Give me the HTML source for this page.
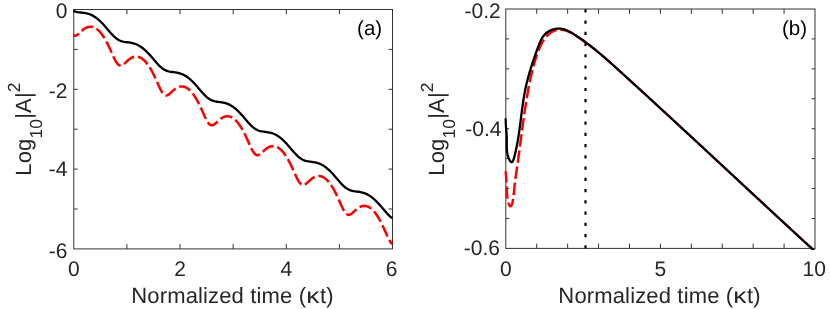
<!DOCTYPE html>
<html><head><meta charset="utf-8"><title>Log10|A|^2 vs normalized time</title>
<style>
html,body{margin:0;padding:0;background:#fff;}
body{width:830px;height:309px;overflow:hidden;font-family:"Liberation Sans",sans-serif;}
svg{display:block;will-change:transform;}
svg text{font-family:"Liberation Sans",sans-serif;text-rendering:geometricPrecision;}
.tk{font-size:21px;fill:#262626;}
.lb{font-size:22px;fill:#262626;letter-spacing:0.15px;}
.pn{font-size:20.5px;fill:#000;}
</style></head><body>
<svg width="830" height="309" viewBox="0 0 830 309">
<rect width="830" height="309" fill="#fff"/>
<clipPath id="ca"><rect x="72.3" y="8.0" width="321.7" height="242.4"/></clipPath>
<clipPath id="cb"><rect x="504.3" y="7.5" width="312.2" height="242.4"/></clipPath>
<path d="M73.30 9.50 H393.00 M73.30 248.90 H393.00 M73.80 9.50 V248.90 M392.50 9.50 V248.90 M126.92 248.90 v-4.80 M126.92 9.50 v4.80 M180.03 248.90 v-4.80 M180.03 9.50 v4.80 M233.15 248.90 v-4.80 M233.15 9.50 v4.80 M286.27 248.90 v-4.80 M286.27 9.50 v4.80 M339.38 248.90 v-4.80 M339.38 9.50 v4.80 M73.80 49.40 h3.90 M392.50 49.40 h-3.90 M73.80 89.30 h3.90 M392.50 89.30 h-3.90 M73.80 129.20 h3.90 M392.50 129.20 h-3.90 M73.80 169.10 h3.90 M392.50 169.10 h-3.90 M73.80 209.00 h3.90 M392.50 209.00 h-3.90 " stroke="#333" stroke-width="1" fill="none"/>
<text x="73.80" y="275.70" text-anchor="middle" class="tk">0</text>
<text x="180.03" y="275.70" text-anchor="middle" class="tk">2</text>
<text x="286.27" y="275.70" text-anchor="middle" class="tk">4</text>
<text x="391.60" y="275.70" text-anchor="middle" class="tk">6</text>
<text x="67.50" y="18.00" text-anchor="end" class="tk">0</text>
<text x="67.50" y="97.80" text-anchor="end" class="tk">-2</text>
<text x="67.50" y="176.40" text-anchor="end" class="tk">-4</text>
<text x="67.50" y="257.80" text-anchor="end" class="tk">-6</text>
<g clip-path="url(#ca)" fill="none" stroke-linejoin="round">
<path d="M73.20 35.25 L74.70 35.77 L76.20 35.48 L77.70 34.57 L79.20 33.31 L80.70 31.91 L82.20 30.54 L83.70 29.31 L85.20 28.29 L86.70 27.50 L88.20 26.96 L89.70 26.69 L91.20 26.69 L92.70 26.96 L94.20 27.49 L95.70 28.28 L97.20 29.34 L98.70 30.66 L100.20 32.25 L101.70 34.10 L103.20 36.23 L104.70 38.61 L106.20 41.26 L107.70 44.16 L109.20 47.27 L110.70 50.55 L112.20 53.92 L113.70 57.22 L115.20 60.27 L116.70 62.81 L118.20 64.61 L119.70 65.52 L121.20 65.55 L122.70 64.87 L124.20 63.72 L125.70 62.36 L127.20 60.97 L128.70 59.67 L130.20 58.55 L131.70 57.66 L133.20 57.01 L134.70 56.63 L136.20 56.52 L137.70 56.67 L139.20 57.09 L140.70 57.77 L142.20 58.72 L143.70 59.93 L145.20 61.41 L146.70 63.15 L148.20 65.16 L149.70 67.44 L151.20 69.98 L152.70 72.77 L154.20 75.80 L155.70 79.02 L157.20 82.36 L158.70 85.71 L160.20 88.90 L161.70 91.68 L163.20 93.82 L164.70 95.11 L166.20 95.50 L167.70 95.09 L169.20 94.11 L170.70 92.81 L172.20 91.41 L173.70 90.06 L175.20 88.85 L176.70 87.86 L178.20 87.11 L179.70 86.62 L181.20 86.40 L182.70 86.44 L184.20 86.74 L185.70 87.32 L187.20 88.15 L188.70 89.25 L190.20 90.62 L191.70 92.25 L193.20 94.15 L194.70 96.31 L196.20 98.74 L197.70 101.43 L199.20 104.36 L200.70 107.51 L202.20 110.81 L203.70 114.18 L205.20 117.45 L206.70 120.44 L208.20 122.88 L209.70 124.54 L211.20 125.30 L212.70 125.20 L214.20 124.43 L215.70 123.24 L217.20 121.86 L218.70 120.47 L220.20 119.20 L221.70 118.11 L223.20 117.26 L224.70 116.66 L226.20 116.32 L227.70 116.25 L229.20 116.44 L230.70 116.90 L232.20 117.63 L233.70 118.62 L235.20 119.87 L236.70 121.39 L238.20 123.18 L239.70 125.23 L241.20 127.55 L242.70 130.13 L244.20 132.96 L245.70 136.02 L247.20 139.27 L248.70 142.62 L250.20 145.96 L251.70 149.10 L253.20 151.80 L254.70 153.81 L256.20 154.95 L257.70 155.20 L259.20 154.68 L260.70 153.63 L262.20 152.31 L263.70 150.90 L265.20 149.57 L266.70 148.40 L268.20 147.45 L269.70 146.74 L271.20 146.29 L272.70 146.10 L274.20 146.19 L275.70 146.54 L277.20 147.15 L278.70 148.03 L280.20 149.17 L281.70 150.58 L283.20 152.26 L284.70 154.19 L286.20 156.40 L287.70 158.87 L289.20 161.60 L290.70 164.57 L292.20 167.75 L293.70 171.07 L295.20 174.43 L296.70 177.68 L298.20 180.59 L299.70 182.92 L301.20 184.44 L302.70 185.06 L304.20 184.84 L305.70 183.98 L307.20 182.74 L308.70 181.35 L310.20 179.98 L311.70 178.73 L313.20 177.68 L314.70 176.86 L316.20 176.31 L317.70 176.01 L319.20 175.98 L320.70 176.22 L322.20 176.72 L323.70 177.49 L325.20 178.52 L326.70 179.82 L328.20 181.38 L329.70 183.21 L331.20 185.30 L332.70 187.66 L334.20 190.29 L335.70 193.16 L337.20 196.25 L338.70 199.52 L340.20 202.88 L341.70 206.20 L343.20 209.29 L344.70 211.89 L346.20 213.77 L347.70 214.77 L349.20 214.88 L350.70 214.26 L352.20 213.15 L353.70 211.80 L355.20 210.40 L356.70 209.09 L358.20 207.95 L359.70 207.04 L361.20 206.37 L362.70 205.96 L364.20 205.82 L365.70 205.95 L367.20 206.34 L368.70 207.00 L370.20 207.92 L371.70 209.10 L373.20 210.55 L374.70 212.27 L376.20 214.25 L377.70 216.50 L379.20 219.01 L380.70 221.78 L382.20 224.79 L383.70 227.99 L385.20 231.33 L386.70 234.68 L388.20 237.89 L389.70 240.73 L391.20 242.94 L392.50 244.19" stroke="#ff0000" stroke-width="2.5" stroke-dasharray="12.5 3.8" stroke-dashoffset="6.0"/>
<path d="M73.20 10.74 L74.70 11.36 L76.20 11.80 L77.70 12.12 L79.20 12.34 L80.70 12.51 L82.20 12.67 L83.70 12.84 L85.20 13.07 L86.70 13.36 L88.20 13.75 L89.70 14.25 L91.20 14.86 L92.70 15.60 L94.20 16.47 L95.70 17.47 L97.20 18.60 L98.70 19.86 L100.20 21.24 L101.70 22.73 L103.20 24.32 L104.70 26.00 L106.20 27.73 L107.70 29.49 L109.20 31.25 L110.70 32.97 L112.20 34.61 L113.70 36.14 L115.20 37.51 L116.70 38.69 L118.20 39.68 L119.70 40.46 L121.20 41.06 L122.70 41.50 L124.20 41.82 L125.70 42.06 L127.20 42.25 L128.70 42.44 L130.20 42.66 L131.70 42.93 L133.20 43.28 L134.70 43.73 L136.20 44.29 L137.70 44.96 L139.20 45.77 L140.70 46.70 L142.20 47.76 L143.70 48.96 L145.20 50.27 L146.70 51.70 L148.20 53.24 L149.70 54.87 L151.20 56.57 L152.70 58.32 L154.20 60.09 L155.70 61.84 L157.20 63.54 L158.70 65.13 L160.20 66.60 L161.70 67.89 L163.20 68.99 L164.70 69.89 L166.20 70.60 L167.70 71.13 L169.20 71.51 L170.70 71.79 L172.20 72.00 L173.70 72.19 L175.20 72.38 L176.70 72.62 L178.20 72.93 L179.70 73.32 L181.20 73.81 L182.70 74.42 L184.20 75.15 L185.70 76.01 L187.20 77.00 L188.70 78.12 L190.20 79.36 L191.70 80.73 L193.20 82.21 L194.70 83.79 L196.20 85.45 L197.70 87.18 L199.20 88.94 L200.70 90.70 L202.20 92.43 L203.70 94.09 L205.20 95.64 L206.70 97.03 L208.20 98.24 L209.70 99.26 L211.20 100.08 L212.70 100.70 L214.20 101.16 L215.70 101.50 L217.20 101.74 L218.70 101.94 L220.20 102.13 L221.70 102.34 L223.20 102.60 L224.70 102.94 L226.20 103.37 L227.70 103.92 L229.20 104.58 L230.70 105.36 L232.20 106.27 L233.70 107.32 L235.20 108.49 L236.70 109.79 L238.20 111.21 L239.70 112.73 L241.20 114.35 L242.70 116.04 L244.20 117.78 L245.70 119.55 L247.20 121.31 L248.70 123.01 L250.20 124.63 L251.70 126.11 L253.20 127.43 L254.70 128.56 L256.20 129.49 L257.70 130.22 L259.20 130.78 L260.70 131.18 L262.20 131.47 L263.70 131.69 L265.20 131.88 L266.70 132.07 L268.20 132.30 L269.70 132.60 L271.20 132.97 L272.70 133.45 L274.20 134.04 L275.70 134.75 L277.20 135.59 L278.70 136.56 L280.20 137.66 L281.70 138.89 L283.20 140.24 L284.70 141.70 L286.20 143.27 L287.70 144.92 L289.20 146.64 L290.70 148.40 L292.20 150.16 L293.70 151.90 L295.20 153.57 L296.70 155.14 L298.20 156.56 L299.70 157.80 L301.20 158.84 L302.70 159.69 L304.20 160.34 L305.70 160.82 L307.20 161.18 L308.70 161.43 L310.20 161.63 L311.70 161.82 L313.20 162.02 L314.70 162.28 L316.20 162.60 L317.70 163.02 L319.20 163.55 L320.70 164.19 L322.20 164.96 L323.70 165.85 L325.20 166.88 L326.70 168.03 L328.20 169.31 L329.70 170.71 L331.20 172.22 L332.70 173.82 L334.20 175.51 L335.70 177.25 L337.20 179.01 L338.70 180.77 L340.20 182.49 L341.70 184.12 L343.20 185.62 L344.70 186.97 L346.20 188.13 L347.70 189.09 L349.20 189.85 L350.70 190.42 L352.20 190.85 L353.70 191.15 L355.20 191.38 L356.70 191.57 L358.20 191.76 L359.70 191.98 L361.20 192.27 L362.70 192.63 L364.20 193.09 L365.70 193.67 L367.20 194.36 L368.70 195.18 L370.20 196.13 L371.70 197.21 L373.20 198.42 L374.70 199.75 L376.20 201.20 L377.70 202.75 L379.20 204.39 L380.70 206.10 L382.20 207.86 L383.70 209.62 L385.20 211.37 L386.70 213.05 L388.20 214.64 L389.70 216.08 L391.20 217.35 L392.50 218.29" stroke="#000" stroke-width="2.3"/>
</g>
<text transform="translate(30.80 129.00) rotate(-90)" text-anchor="middle" class="lb">Log<tspan dy="10.7" font-size="17.5">10</tspan><tspan dy="-10.7">|A|</tspan><tspan dy="-11.2" font-size="17.5">2</tspan></text>
<text x="131.25" y="302.60" class="lb">Normalized time (</text>
<text transform="translate(306.25 302.60) scale(1.2 1)" class="lb">κ</text>
<text x="319.95" y="302.60" class="lb">t)</text>
<text x="369.6" y="34.6" text-anchor="middle" class="pn">(a)</text>
<path d="M505.30 9.00 H815.50 M505.30 248.40 H815.50 M505.80 9.00 V248.40 M815.00 9.00 V248.40 M536.72 248.40 v-4.80 M536.72 9.00 v4.80 M567.64 248.40 v-4.80 M567.64 9.00 v4.80 M598.56 248.40 v-4.80 M598.56 9.00 v4.80 M629.48 248.40 v-4.80 M629.48 9.00 v4.80 M660.40 248.40 v-4.80 M660.40 9.00 v4.80 M691.32 248.40 v-4.80 M691.32 9.00 v4.80 M722.24 248.40 v-4.80 M722.24 9.00 v4.80 M753.16 248.40 v-4.80 M753.16 9.00 v4.80 M784.08 248.40 v-4.80 M784.08 9.00 v4.80 M505.80 38.92 h3.30 M815.00 38.92 h-3.30 M505.80 68.85 h3.30 M815.00 68.85 h-3.30 M505.80 98.78 h3.30 M815.00 98.78 h-3.30 M505.80 128.70 h3.30 M815.00 128.70 h-3.30 M505.80 158.62 h3.30 M815.00 158.62 h-3.30 M505.80 188.55 h3.30 M815.00 188.55 h-3.30 M505.80 218.47 h3.30 M815.00 218.47 h-3.30 " stroke="#333" stroke-width="1" fill="none"/>
<text x="505.80" y="275.70" text-anchor="middle" class="tk">0</text>
<text x="660.40" y="275.70" text-anchor="middle" class="tk">5</text>
<text x="814.20" y="275.70" text-anchor="middle" class="tk">10</text>
<text x="500.70" y="18.10" text-anchor="end" class="tk">-0.2</text>
<text x="501.40" y="136.30" text-anchor="end" class="tk">-0.4</text>
<text x="500.00" y="254.80" text-anchor="end" class="tk">-0.6</text>
<g clip-path="url(#cb)" fill="none" stroke-linejoin="round">
<path d="M585.5 9.0 V248.4" stroke="#000" stroke-width="2.15" stroke-dasharray="3.2 8.04" stroke-dashoffset="-0.2"/>
<clipPath id="cr1"><rect x="500" y="0" width="90" height="309"/></clipPath><clipPath id="cr2"><rect x="590" y="0" width="240" height="309"/></clipPath>
<path d="M505.28 171.14 L505.48 172.04 L505.64 173.01 L505.79 174.04 L505.92 175.12 L506.03 176.26 L506.12 177.45 L506.21 178.67 L506.28 179.93 L506.35 181.22 L506.41 182.54 L506.47 183.87 L506.52 185.22 L506.58 186.58 L506.64 187.95 L506.70 189.31 L506.78 190.66 L506.86 192.00 L506.96 193.33 L507.07 194.63 L507.20 195.91 L507.34 197.15 L507.51 198.35 L507.70 199.50 L507.92 200.61 L508.16 201.67 L508.44 202.66 L508.75 203.59 L509.09 204.44 L509.47 205.21 L509.87 205.83 L510.29 206.20 L510.71 206.24 L511.13 205.96 L511.52 205.33 L511.88 204.42 L512.21 203.29 L512.51 202.03 L512.78 200.70 L513.02 199.38 L513.23 198.08 L513.42 196.79 L513.59 195.52 L513.74 194.25 L513.87 193.00 L514.00 191.76 L514.12 190.52 L514.24 189.30 L514.36 188.07 L514.49 186.86 L514.62 185.65 L514.75 184.44 L514.89 183.23 L515.04 182.03 L515.19 180.83 L515.34 179.64 L515.49 178.45 L515.65 177.26 L515.81 176.07 L515.97 174.89 L516.13 173.71 L516.30 172.53 L516.47 171.35 L516.64 170.17 L516.80 168.99 L516.97 167.81 L517.14 166.64 L517.31 165.46 L517.48 164.28 L517.65 163.10 L517.82 161.92 L517.98 160.75 L518.15 159.56 L518.31 158.38 L518.47 157.20 L518.63 156.02 L518.79 154.84 L518.95 153.65 L519.11 152.47 L519.27 151.28 L519.43 150.09 L519.59 148.91 L519.75 147.72 L519.90 146.53 L520.06 145.34 L520.22 144.16 L520.37 142.97 L520.53 141.78 L520.69 140.59 L520.84 139.40 L521.00 138.21 L521.15 137.02 L521.31 135.82 L521.47 134.63 L521.63 133.44 L521.78 132.25 L521.94 131.06 L522.10 129.87 L522.26 128.67 L522.42 127.48 L522.58 126.29 L522.74 125.10 L522.91 123.90 L523.07 122.71 L523.23 121.52 L523.40 120.33 L523.57 119.14 L523.73 117.94 L523.90 116.75 L524.07 115.56 L524.25 114.37 L524.42 113.18 L524.59 111.99 L524.77 110.80 L524.95 109.61 L525.13 108.42 L525.31 107.23 L525.49 106.04 L525.68 104.85 L525.87 103.66 L526.06 102.48 L526.25 101.29 L526.44 100.10 L526.64 98.92 L526.84 97.73 L527.04 96.55 L527.24 95.37 L527.45 94.18 L527.66 93.00 L527.87 91.82 L528.08 90.64 L528.30 89.46 L528.52 88.28 L528.74 87.10 L528.96 85.93 L529.19 84.75 L529.42 83.58 L529.66 82.40 L529.90 81.23 L530.14 80.06 L530.39 78.89 L530.64 77.72 L530.90 76.55 L531.17 75.38 L531.43 74.22 L531.71 73.05 L531.99 71.89 L532.27 70.73 L532.56 69.57 L532.86 68.41 L533.16 67.25 L533.47 66.10 L533.79 64.94 L534.12 63.79 L534.45 62.64 L534.79 61.49 L535.14 60.35 L535.49 59.20 L535.85 58.06 L536.23 56.92 L536.61 55.78 L537.00 54.64 L537.39 53.50 L537.80 52.37 L538.22 51.24 L538.66 50.12 L539.11 49.00 L539.57 47.89 L540.06 46.78 L540.57 45.69 L541.10 44.61 L541.65 43.54 L542.23 42.48 L542.84 41.44 L543.48 40.41 L544.15 39.40 L544.85 38.41 L545.59 37.45 L546.36 36.52 L547.16 35.63 L548.00 34.78 L548.89 33.98 L549.81 33.23 L550.76 32.54 L551.77 31.91 L552.81 31.34 L553.89 30.85 L555.02 30.43 L556.20 30.10 L557.40 29.85 L558.62 29.69 L559.84 29.61 L561.04 29.63 L562.23 29.73 L563.39 29.92 L564.54 30.18 L565.68 30.50 L566.80 30.89 L567.90 31.33 L568.99 31.82 L570.07 32.35 L571.14 32.92 L572.20 33.51 L573.25 34.13 L574.29 34.76 L575.32 35.40 L576.35 36.05 L577.37 36.71 L578.38 37.37 L579.39 38.04 L580.39 38.71 L581.39 39.39 L582.38 40.08 L583.37 40.77 L584.35 41.47 L585.32 42.17 L586.29 42.88 L587.25 43.59 L588.21 44.31 L589.17 45.03 L590.12 45.76 L591.07 46.49 L592.01 47.23 L592.95 47.97 L593.89 48.71 L594.83 49.46 L595.76 50.21 L596.68 50.97 L597.61 51.73 L598.53 52.49 L599.45 53.26 L600.37 54.03 L601.28 54.80 L602.19 55.58 L603.10 56.36 L604.01 57.14 L604.92 57.92 L605.83 58.71 L606.73 59.49 L607.63 60.28 L608.53 61.08 L609.43 61.87 L610.33 62.67 L611.22 63.47 L612.12 64.26 L613.01 65.06 L613.91 65.87 L614.80 66.67 L615.69 67.47 L616.58 68.28 L617.47 69.08 L618.36 69.89 L619.25 70.69 L620.14 71.50 L621.03 72.30 L621.92 73.11 L622.81 73.92 L623.70 74.72 L624.59 75.53 L625.48 76.34 L626.37 77.15 L627.25 77.95 L628.14 78.76 L629.03 79.57 L629.92 80.38 L630.81 81.19 L631.69 81.99 L632.58 82.80 L633.47 83.61 L634.35 84.42 L635.24 85.23 L636.13 86.04 L637.01 86.85 L637.90 87.66 L638.79 88.47 L639.67 89.28 L640.56 90.08 L641.44 90.89 L642.33 91.70 L643.22 92.52 L644.10 93.33 L644.99 94.14 L645.87 94.95 L646.76 95.76 L647.64 96.57 L648.53 97.38 L649.41 98.19 L650.30 99.00 L651.18 99.81 L652.06 100.62 L652.95 101.44 L653.83 102.25 L654.72 103.06 L655.60 103.87 L656.48 104.68 L657.37 105.50 L658.25 106.31 L659.13 107.12 L660.02 107.93 L660.90 108.75 L661.78 109.56 L662.67 110.37 L663.55 111.18 L664.43 112.00 L665.31 112.81 L666.20 113.62 L667.08 114.44 L667.96 115.25 L668.84 116.06 L669.73 116.88 L670.61 117.69 L671.49 118.51 L672.37 119.32 L673.25 120.13 L674.13 120.95 L675.02 121.76 L675.90 122.58 L676.78 123.39 L677.66 124.21 L678.54 125.02 L679.42 125.83 L680.30 126.65 L681.18 127.46 L682.06 128.28 L682.95 129.09 L683.83 129.91 L684.71 130.72 L685.59 131.54 L686.47 132.35 L687.35 133.17 L688.23 133.99 L689.11 134.80 L689.99 135.62 L690.87 136.43 L691.75 137.25 L692.63 138.06 L693.51 138.88 L694.39 139.70 L695.27 140.51 L696.15 141.33 L697.03 142.14 L697.91 142.96 L698.79 143.78 L699.67 144.59 L700.55 145.41 L701.43 146.22 L702.31 147.04 L703.18 147.86 L704.06 148.67 L704.94 149.49 L705.82 150.31 L706.70 151.12 L707.58 151.94 L708.46 152.76 L709.34 153.57 L710.22 154.39 L711.10 155.21 L711.98 156.02 L712.86 156.84 L713.73 157.66 L714.61 158.47 L715.49 159.29 L716.37 160.11 L717.25 160.92 L718.13 161.74 L719.01 162.56 L719.89 163.37 L720.77 164.19 L721.64 165.01 L722.52 165.82 L723.40 166.64 L724.28 167.46 L725.16 168.27 L726.04 169.09 L726.92 169.91 L727.80 170.73 L728.67 171.54 L729.55 172.36 L730.43 173.18 L731.31 173.99 L732.19 174.81 L733.07 175.63 L733.95 176.44 L734.83 177.26 L735.70 178.08 L736.58 178.90 L737.46 179.71 L738.34 180.53 L739.22 181.35 L740.10 182.16 L740.98 182.98 L741.86 183.80 L742.74 184.61 L743.61 185.43 L744.49 186.25 L745.37 187.06 L746.25 187.88 L747.13 188.70 L748.01 189.51 L748.89 190.33 L749.77 191.15 L750.65 191.96 L751.53 192.78 L752.40 193.60 L753.28 194.41 L754.16 195.23 L755.04 196.05 L755.92 196.86 L756.80 197.68 L757.68 198.50 L758.56 199.31 L759.44 200.13 L760.32 200.95 L761.20 201.76 L762.08 202.58 L762.96 203.39 L763.84 204.21 L764.72 205.03 L765.60 205.84 L766.48 206.66 L767.36 207.47 L768.24 208.29 L769.12 209.10 L770.00 209.92 L770.88 210.74 L771.76 211.55 L772.64 212.37 L773.52 213.18 L774.40 214.00 L775.28 214.81 L776.16 215.63 L777.04 216.44 L777.92 217.26 L778.80 218.07 L779.69 218.89 L780.57 219.70 L781.45 220.52 L782.33 221.33 L783.21 222.15 L784.09 222.96 L784.97 223.77 L785.85 224.59 L786.74 225.40 L787.62 226.22 L788.50 227.03 L789.38 227.84 L790.26 228.66 L791.15 229.47 L792.03 230.29 L792.91 231.10 L793.79 231.91 L794.68 232.73 L795.56 233.54 L796.44 234.35 L797.32 235.17 L798.21 235.98 L799.09 236.79 L799.97 237.60 L800.86 238.42 L801.74 239.23 L802.62 240.04 L803.51 240.85 L804.39 241.67 L805.27 242.48 L806.16 243.29 L807.04 244.10 L807.93 244.91 L808.81 245.72 L809.70 246.54 L810.58 247.35 L811.46 248.16 L812.35 248.97 L813.23 249.78 L814.12 250.59 L815.01 251.40 L815.89 252.21 L816.04 252.35" stroke="#ff0000" stroke-width="2.5" stroke-dasharray="12.5 3.8" stroke-dashoffset="1.0" clip-path="url(#cr1)"/>
<path d="M505.28 171.14 L505.48 172.04 L505.64 173.01 L505.79 174.04 L505.92 175.12 L506.03 176.26 L506.12 177.45 L506.21 178.67 L506.28 179.93 L506.35 181.22 L506.41 182.54 L506.47 183.87 L506.52 185.22 L506.58 186.58 L506.64 187.95 L506.70 189.31 L506.78 190.66 L506.86 192.00 L506.96 193.33 L507.07 194.63 L507.20 195.91 L507.34 197.15 L507.51 198.35 L507.70 199.50 L507.92 200.61 L508.16 201.67 L508.44 202.66 L508.75 203.59 L509.09 204.44 L509.47 205.21 L509.87 205.83 L510.29 206.20 L510.71 206.24 L511.13 205.96 L511.52 205.33 L511.88 204.42 L512.21 203.29 L512.51 202.03 L512.78 200.70 L513.02 199.38 L513.23 198.08 L513.42 196.79 L513.59 195.52 L513.74 194.25 L513.87 193.00 L514.00 191.76 L514.12 190.52 L514.24 189.30 L514.36 188.07 L514.49 186.86 L514.62 185.65 L514.75 184.44 L514.89 183.23 L515.04 182.03 L515.19 180.83 L515.34 179.64 L515.49 178.45 L515.65 177.26 L515.81 176.07 L515.97 174.89 L516.13 173.71 L516.30 172.53 L516.47 171.35 L516.64 170.17 L516.80 168.99 L516.97 167.81 L517.14 166.64 L517.31 165.46 L517.48 164.28 L517.65 163.10 L517.82 161.92 L517.98 160.75 L518.15 159.56 L518.31 158.38 L518.47 157.20 L518.63 156.02 L518.79 154.84 L518.95 153.65 L519.11 152.47 L519.27 151.28 L519.43 150.09 L519.59 148.91 L519.75 147.72 L519.90 146.53 L520.06 145.34 L520.22 144.16 L520.37 142.97 L520.53 141.78 L520.69 140.59 L520.84 139.40 L521.00 138.21 L521.15 137.02 L521.31 135.82 L521.47 134.63 L521.63 133.44 L521.78 132.25 L521.94 131.06 L522.10 129.87 L522.26 128.67 L522.42 127.48 L522.58 126.29 L522.74 125.10 L522.91 123.90 L523.07 122.71 L523.23 121.52 L523.40 120.33 L523.57 119.14 L523.73 117.94 L523.90 116.75 L524.07 115.56 L524.25 114.37 L524.42 113.18 L524.59 111.99 L524.77 110.80 L524.95 109.61 L525.13 108.42 L525.31 107.23 L525.49 106.04 L525.68 104.85 L525.87 103.66 L526.06 102.48 L526.25 101.29 L526.44 100.10 L526.64 98.92 L526.84 97.73 L527.04 96.55 L527.24 95.37 L527.45 94.18 L527.66 93.00 L527.87 91.82 L528.08 90.64 L528.30 89.46 L528.52 88.28 L528.74 87.10 L528.96 85.93 L529.19 84.75 L529.42 83.58 L529.66 82.40 L529.90 81.23 L530.14 80.06 L530.39 78.89 L530.64 77.72 L530.90 76.55 L531.17 75.38 L531.43 74.22 L531.71 73.05 L531.99 71.89 L532.27 70.73 L532.56 69.57 L532.86 68.41 L533.16 67.25 L533.47 66.10 L533.79 64.94 L534.12 63.79 L534.45 62.64 L534.79 61.49 L535.14 60.35 L535.49 59.20 L535.85 58.06 L536.23 56.92 L536.61 55.78 L537.00 54.64 L537.39 53.50 L537.80 52.37 L538.22 51.24 L538.66 50.12 L539.11 49.00 L539.57 47.89 L540.06 46.78 L540.57 45.69 L541.10 44.61 L541.65 43.54 L542.23 42.48 L542.84 41.44 L543.48 40.41 L544.15 39.40 L544.85 38.41 L545.59 37.45 L546.36 36.52 L547.16 35.63 L548.00 34.78 L548.89 33.98 L549.81 33.23 L550.76 32.54 L551.77 31.91 L552.81 31.34 L553.89 30.85 L555.02 30.43 L556.20 30.10 L557.40 29.85 L558.62 29.69 L559.84 29.61 L561.04 29.63 L562.23 29.73 L563.39 29.92 L564.54 30.18 L565.68 30.50 L566.80 30.89 L567.90 31.33 L568.99 31.82 L570.07 32.35 L571.14 32.92 L572.20 33.51 L573.25 34.13 L574.29 34.76 L575.32 35.40 L576.35 36.05 L577.37 36.71 L578.38 37.37 L579.39 38.04 L580.39 38.71 L581.39 39.39 L582.38 40.08 L583.37 40.77 L584.35 41.47 L585.32 42.17 L586.29 42.88 L587.25 43.59 L588.21 44.31 L589.17 45.03 L590.12 45.76 L591.07 46.49 L592.01 47.23 L592.95 47.97 L593.89 48.71 L594.83 49.46 L595.76 50.21 L596.68 50.97 L597.61 51.73 L598.53 52.49 L599.45 53.26 L600.37 54.03 L601.28 54.80 L602.19 55.58 L603.10 56.36 L604.01 57.14 L604.92 57.92 L605.83 58.71 L606.73 59.49 L607.63 60.28 L608.53 61.08 L609.43 61.87 L610.33 62.67 L611.22 63.47 L612.12 64.26 L613.01 65.06 L613.91 65.87 L614.80 66.67 L615.69 67.47 L616.58 68.28 L617.47 69.08 L618.36 69.89 L619.25 70.69 L620.14 71.50 L621.03 72.30 L621.92 73.11 L622.81 73.92 L623.70 74.72 L624.59 75.53 L625.48 76.34 L626.37 77.15 L627.25 77.95 L628.14 78.76 L629.03 79.57 L629.92 80.38 L630.81 81.19 L631.69 81.99 L632.58 82.80 L633.47 83.61 L634.35 84.42 L635.24 85.23 L636.13 86.04 L637.01 86.85 L637.90 87.66 L638.79 88.47 L639.67 89.28 L640.56 90.08 L641.44 90.89 L642.33 91.70 L643.22 92.52 L644.10 93.33 L644.99 94.14 L645.87 94.95 L646.76 95.76 L647.64 96.57 L648.53 97.38 L649.41 98.19 L650.30 99.00 L651.18 99.81 L652.06 100.62 L652.95 101.44 L653.83 102.25 L654.72 103.06 L655.60 103.87 L656.48 104.68 L657.37 105.50 L658.25 106.31 L659.13 107.12 L660.02 107.93 L660.90 108.75 L661.78 109.56 L662.67 110.37 L663.55 111.18 L664.43 112.00 L665.31 112.81 L666.20 113.62 L667.08 114.44 L667.96 115.25 L668.84 116.06 L669.73 116.88 L670.61 117.69 L671.49 118.51 L672.37 119.32 L673.25 120.13 L674.13 120.95 L675.02 121.76 L675.90 122.58 L676.78 123.39 L677.66 124.21 L678.54 125.02 L679.42 125.83 L680.30 126.65 L681.18 127.46 L682.06 128.28 L682.95 129.09 L683.83 129.91 L684.71 130.72 L685.59 131.54 L686.47 132.35 L687.35 133.17 L688.23 133.99 L689.11 134.80 L689.99 135.62 L690.87 136.43 L691.75 137.25 L692.63 138.06 L693.51 138.88 L694.39 139.70 L695.27 140.51 L696.15 141.33 L697.03 142.14 L697.91 142.96 L698.79 143.78 L699.67 144.59 L700.55 145.41 L701.43 146.22 L702.31 147.04 L703.18 147.86 L704.06 148.67 L704.94 149.49 L705.82 150.31 L706.70 151.12 L707.58 151.94 L708.46 152.76 L709.34 153.57 L710.22 154.39 L711.10 155.21 L711.98 156.02 L712.86 156.84 L713.73 157.66 L714.61 158.47 L715.49 159.29 L716.37 160.11 L717.25 160.92 L718.13 161.74 L719.01 162.56 L719.89 163.37 L720.77 164.19 L721.64 165.01 L722.52 165.82 L723.40 166.64 L724.28 167.46 L725.16 168.27 L726.04 169.09 L726.92 169.91 L727.80 170.73 L728.67 171.54 L729.55 172.36 L730.43 173.18 L731.31 173.99 L732.19 174.81 L733.07 175.63 L733.95 176.44 L734.83 177.26 L735.70 178.08 L736.58 178.90 L737.46 179.71 L738.34 180.53 L739.22 181.35 L740.10 182.16 L740.98 182.98 L741.86 183.80 L742.74 184.61 L743.61 185.43 L744.49 186.25 L745.37 187.06 L746.25 187.88 L747.13 188.70 L748.01 189.51 L748.89 190.33 L749.77 191.15 L750.65 191.96 L751.53 192.78 L752.40 193.60 L753.28 194.41 L754.16 195.23 L755.04 196.05 L755.92 196.86 L756.80 197.68 L757.68 198.50 L758.56 199.31 L759.44 200.13 L760.32 200.95 L761.20 201.76 L762.08 202.58 L762.96 203.39 L763.84 204.21 L764.72 205.03 L765.60 205.84 L766.48 206.66 L767.36 207.47 L768.24 208.29 L769.12 209.10 L770.00 209.92 L770.88 210.74 L771.76 211.55 L772.64 212.37 L773.52 213.18 L774.40 214.00 L775.28 214.81 L776.16 215.63 L777.04 216.44 L777.92 217.26 L778.80 218.07 L779.69 218.89 L780.57 219.70 L781.45 220.52 L782.33 221.33 L783.21 222.15 L784.09 222.96 L784.97 223.77 L785.85 224.59 L786.74 225.40 L787.62 226.22 L788.50 227.03 L789.38 227.84 L790.26 228.66 L791.15 229.47 L792.03 230.29 L792.91 231.10 L793.79 231.91 L794.68 232.73 L795.56 233.54 L796.44 234.35 L797.32 235.17 L798.21 235.98 L799.09 236.79 L799.97 237.60 L800.86 238.42 L801.74 239.23 L802.62 240.04 L803.51 240.85 L804.39 241.67 L805.27 242.48 L806.16 243.29 L807.04 244.10 L807.93 244.91 L808.81 245.72 L809.70 246.54 L810.58 247.35 L811.46 248.16 L812.35 248.97 L813.23 249.78 L814.12 250.59 L815.01 251.40 L815.89 252.21 L816.04 252.35" stroke="#ff0000" stroke-width="2.15" stroke-dasharray="12.5 3.8" stroke-dashoffset="1.0" clip-path="url(#cr2)"/>
<path d="M505.50 118.28 L505.53 119.63 L505.57 120.93 L505.64 122.19 L505.71 123.41 L505.79 124.61 L505.89 125.77 L505.98 126.92 L506.08 128.04 L506.18 129.16 L506.28 130.27 L506.38 131.37 L506.47 132.48 L506.55 133.60 L506.62 134.72 L506.68 135.87 L506.72 137.04 L506.75 138.23 L506.76 139.45 L506.76 140.70 L506.75 141.97 L506.74 143.25 L506.74 144.55 L506.75 145.86 L506.77 147.18 L506.82 148.49 L506.90 149.81 L507.02 151.11 L507.18 152.40 L507.39 153.68 L507.65 154.94 L507.97 156.17 L508.36 157.37 L508.81 158.54 L509.32 159.61 L509.86 160.56 L510.42 161.33 L510.98 161.88 L511.51 162.14 L512.01 162.09 L512.47 161.73 L512.89 161.09 L513.27 160.24 L513.63 159.22 L513.97 158.10 L514.29 156.92 L514.60 155.73 L514.90 154.54 L515.19 153.34 L515.47 152.15 L515.74 150.95 L516.01 149.76 L516.26 148.56 L516.51 147.37 L516.75 146.17 L516.99 144.97 L517.21 143.77 L517.43 142.57 L517.65 141.37 L517.85 140.17 L518.06 138.97 L518.25 137.77 L518.44 136.57 L518.63 135.37 L518.81 134.17 L518.99 132.97 L519.16 131.77 L519.33 130.57 L519.50 129.37 L519.66 128.17 L519.82 126.97 L519.98 125.77 L520.14 124.57 L520.29 123.37 L520.45 122.17 L520.60 120.97 L520.75 119.77 L520.90 118.57 L521.05 117.38 L521.21 116.18 L521.36 114.98 L521.51 113.79 L521.66 112.60 L521.82 111.40 L521.97 110.21 L522.13 109.02 L522.29 107.83 L522.45 106.64 L522.62 105.45 L522.79 104.26 L522.96 103.08 L523.13 101.89 L523.31 100.71 L523.50 99.53 L523.69 98.35 L523.88 97.17 L524.08 95.99 L524.28 94.82 L524.50 93.64 L524.71 92.47 L524.94 91.30 L525.17 90.13 L525.40 88.96 L525.65 87.80 L525.90 86.63 L526.16 85.47 L526.43 84.31 L526.70 83.15 L526.98 82.00 L527.27 80.84 L527.56 79.68 L527.86 78.53 L528.17 77.38 L528.48 76.23 L528.80 75.08 L529.13 73.93 L529.46 72.78 L529.79 71.63 L530.13 70.49 L530.48 69.34 L530.83 68.20 L531.19 67.05 L531.55 65.91 L531.92 64.76 L532.29 63.62 L532.67 62.48 L533.05 61.33 L533.43 60.19 L533.82 59.04 L534.21 57.90 L534.61 56.76 L535.00 55.61 L535.41 54.47 L535.81 53.32 L536.22 52.17 L536.63 51.03 L537.05 49.88 L537.47 48.73 L537.89 47.58 L538.31 46.43 L538.74 45.29 L539.19 44.15 L539.65 43.02 L540.13 41.92 L540.63 40.82 L541.17 39.76 L541.73 38.72 L542.33 37.71 L542.98 36.73 L543.67 35.79 L544.40 34.89 L545.20 34.04 L546.04 33.24 L546.95 32.49 L547.93 31.80 L548.97 31.17 L550.06 30.60 L551.19 30.09 L552.36 29.66 L553.56 29.29 L554.78 29.00 L556.00 28.78 L557.23 28.64 L558.45 28.57 L559.65 28.60 L560.83 28.70 L562.00 28.87 L563.14 29.12 L564.27 29.43 L565.39 29.80 L566.49 30.22 L567.57 30.69 L568.65 31.20 L569.71 31.75 L570.77 32.33 L571.81 32.93 L572.85 33.56 L573.87 34.20 L574.90 34.85 L575.91 35.51 L576.93 36.17 L577.93 36.84 L578.94 37.52 L579.93 38.20 L580.93 38.89 L581.91 39.58 L582.90 40.28 L583.87 40.98 L584.85 41.69 L585.82 42.40 L586.78 43.12 L587.75 43.84 L588.70 44.56 L589.66 45.29 L590.61 46.03 L591.55 46.77 L592.50 47.51 L593.44 48.26 L594.37 49.01 L595.31 49.76 L596.24 50.52 L597.16 51.28 L598.09 52.05 L599.01 52.82 L599.93 53.59 L600.84 54.36 L601.76 55.14 L602.67 55.92 L603.58 56.70 L604.49 57.48 L605.39 58.27 L606.29 59.06 L607.20 59.85 L608.10 60.64 L608.99 61.44 L609.89 62.23 L610.79 63.03 L611.68 63.83 L612.57 64.63 L613.47 65.43 L614.36 66.23 L615.25 67.04 L616.14 67.84 L617.03 68.65 L617.91 69.45 L618.80 70.26 L619.69 71.07 L620.58 71.87 L621.47 72.68 L622.35 73.49 L623.24 74.29 L624.13 75.10 L625.02 75.91 L625.90 76.72 L626.79 77.52 L627.68 78.33 L628.56 79.14 L629.45 79.95 L630.34 80.76 L631.22 81.57 L632.11 82.37 L632.99 83.18 L633.88 83.99 L634.77 84.80 L635.65 85.61 L636.54 86.42 L637.42 87.23 L638.31 88.04 L639.19 88.85 L640.08 89.66 L640.96 90.47 L641.85 91.28 L642.73 92.09 L643.62 92.90 L644.50 93.71 L645.39 94.52 L646.27 95.33 L647.15 96.14 L648.04 96.95 L648.92 97.77 L649.81 98.58 L650.69 99.39 L651.57 100.20 L652.46 101.01 L653.34 101.82 L654.22 102.64 L655.11 103.45 L655.99 104.26 L656.87 105.07 L657.76 105.88 L658.64 106.70 L659.52 107.51 L660.41 108.32 L661.29 109.13 L662.17 109.95 L663.05 110.76 L663.94 111.57 L664.82 112.39 L665.70 113.20 L666.58 114.01 L667.47 114.83 L668.35 115.64 L669.23 116.45 L670.11 117.27 L670.99 118.08 L671.87 118.90 L672.76 119.71 L673.64 120.52 L674.52 121.34 L675.40 122.15 L676.28 122.97 L677.16 123.78 L678.05 124.59 L678.93 125.41 L679.81 126.22 L680.69 127.04 L681.57 127.85 L682.45 128.67 L683.33 129.48 L684.21 130.30 L685.09 131.11 L685.97 131.93 L686.86 132.74 L687.74 133.56 L688.62 134.37 L689.50 135.19 L690.38 136.00 L691.26 136.82 L692.14 137.64 L693.02 138.45 L693.90 139.27 L694.78 140.08 L695.66 140.90 L696.54 141.71 L697.42 142.53 L698.30 143.35 L699.18 144.16 L700.06 144.98 L700.94 145.79 L701.82 146.61 L702.70 147.43 L703.58 148.24 L704.46 149.06 L705.34 149.88 L706.22 150.69 L707.10 151.51 L707.98 152.32 L708.86 153.14 L709.74 153.96 L710.62 154.77 L711.50 155.59 L712.38 156.41 L713.26 157.22 L714.14 158.04 L715.02 158.86 L715.90 159.67 L716.77 160.49 L717.65 161.31 L718.53 162.12 L719.41 162.94 L720.29 163.76 L721.17 164.57 L722.05 165.39 L722.93 166.21 L723.81 167.02 L724.69 167.84 L725.57 168.66 L726.45 169.47 L727.33 170.29 L728.21 171.11 L729.09 171.92 L729.97 172.74 L730.84 173.56 L731.72 174.38 L732.60 175.19 L733.48 176.01 L734.36 176.83 L735.24 177.64 L736.12 178.46 L737.00 179.28 L737.88 180.09 L738.76 180.91 L739.64 181.73 L740.52 182.54 L741.40 183.36 L742.28 184.18 L743.16 184.99 L744.03 185.81 L744.91 186.63 L745.79 187.44 L746.67 188.26 L747.55 189.08 L748.43 189.89 L749.31 190.71 L750.19 191.53 L751.07 192.34 L751.95 193.16 L752.83 193.98 L753.71 194.79 L754.59 195.61 L755.47 196.42 L756.35 197.24 L757.23 198.06 L758.11 198.87 L758.99 199.69 L759.87 200.51 L760.75 201.32 L761.63 202.14 L762.51 202.95 L763.39 203.77 L764.27 204.59 L765.15 205.40 L766.03 206.22 L766.91 207.03 L767.79 207.85 L768.67 208.66 L769.55 209.48 L770.43 210.30 L771.31 211.11 L772.19 211.93 L773.07 212.74 L773.95 213.56 L774.83 214.37 L775.71 215.19 L776.59 216.00 L777.47 216.82 L778.35 217.63 L779.23 218.45 L780.11 219.26 L781.00 220.08 L781.88 220.89 L782.76 221.71 L783.64 222.52 L784.52 223.34 L785.40 224.15 L786.28 224.96 L787.16 225.78 L788.05 226.59 L788.93 227.41 L789.81 228.22 L790.69 229.04 L791.57 229.85 L792.45 230.66 L793.34 231.48 L794.22 232.29 L795.10 233.10 L795.98 233.92 L796.86 234.73 L797.75 235.54 L798.63 236.36 L799.51 237.17 L800.39 237.98 L801.27 238.79 L802.16 239.61 L803.04 240.42 L803.92 241.23 L804.81 242.04 L805.69 242.86 L806.57 243.67 L807.45 244.48 L808.34 245.29 L809.22 246.10 L810.10 246.92 L810.99 247.73 L811.87 248.54 L812.76 249.35 L813.64 250.16 L814.52 250.97 L815.41 251.78 L816.03 252.35" stroke="#000" stroke-width="2.3"/>
</g>
<text transform="translate(443.80 129.00) rotate(-90)" text-anchor="middle" class="lb">Log<tspan dy="10.7" font-size="17.5">10</tspan><tspan dy="-10.7">|A|</tspan><tspan dy="-11.2" font-size="17.5">2</tspan></text>
<text x="558.35" y="303.20" class="lb">Normalized time (</text>
<text transform="translate(733.35 303.20) scale(1.2 1)" class="lb">κ</text>
<text x="747.05" y="303.20" class="lb">t)</text>
<text x="794.5" y="34.6" text-anchor="middle" class="pn">(b)</text>
</svg>
</body></html>
